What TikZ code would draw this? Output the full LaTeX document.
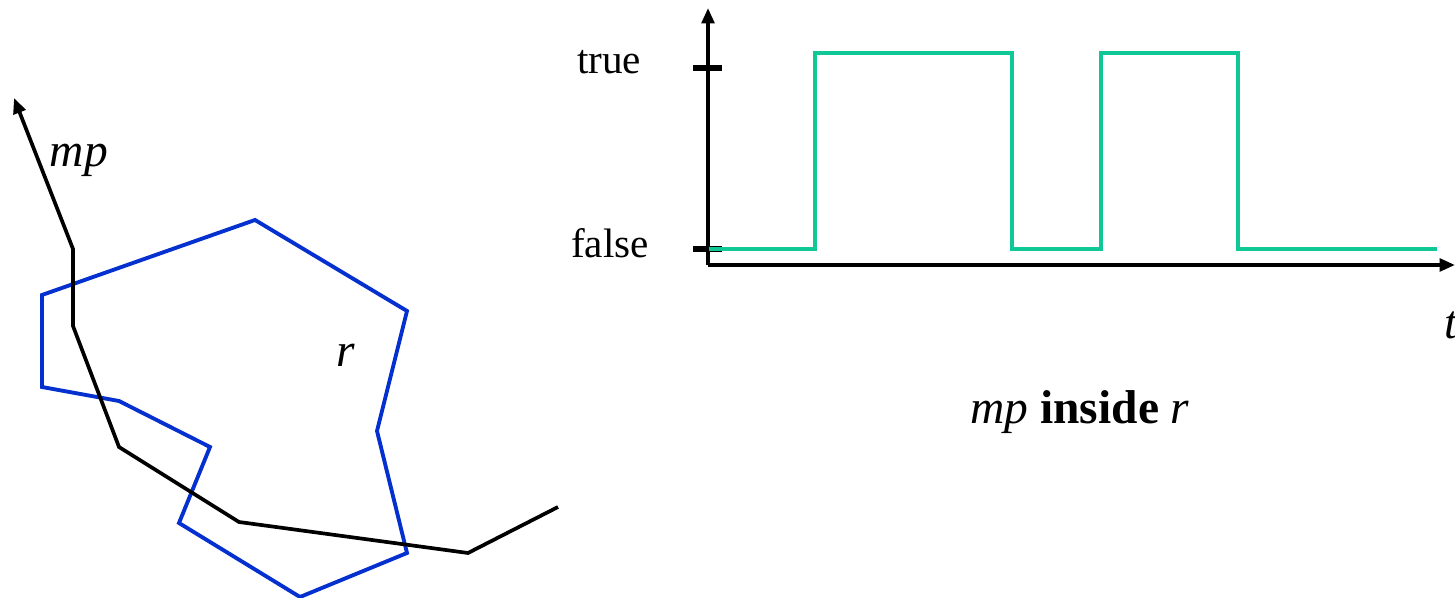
\documentclass[tikz,border=0pt]{standalone}
\usepackage{fontspec}
\setmainfont{Liberation Serif}
\usetikzlibrary{arrows.meta}
\definecolor{regionblue}{HTML}{0530D0}
\definecolor{signal}{HTML}{10C896}

\begin{document}
\begin{tikzpicture}[
  x=0.01cm, y=-0.01cm,
  every node/.style={font=\fontsize{13.5}{16}\selectfont, inner sep=0pt},
  axislabel/.style={font=\fontsize{11.7}{14}\selectfont},
  axis/.style={line width=1.05pt, -{Triangle[length=4.4pt,width=3.6pt]}},
  tickmark/.style={line width=1.5pt},
  region/.style={draw=regionblue, line width=1.1pt},
  trajectory/.style={draw=black, line width=1.05pt, -{Triangle[length=4.4pt,width=3.6pt]}},
  signalline/.style={draw=signal, line width=1.1pt}
]
\useasboundingbox (0,0) rectangle (1455,598);

% moving region
\draw[region] (255,220) -- (407,311) -- (377,431) -- (407,553) -- (300,597) -- (179,523)
  -- (210,447) -- (119,401) -- (42,387) -- (42,295) -- cycle;
\node (rlabel) at (346,355) {\textit{r}};

% moving point
\coordinate (mpstart) at (558,507);
\coordinate (mpend) at (14,98);
\draw[trajectory] (mpstart) -- (468,553) -- (239,522) -- (119,447) -- (73,326) -- (73,249) -- (mpend);
\node (mplabel) at (79,160) {\textit{mp}};

% axes
\coordinate (origin) at (708,265);
\coordinate (ytop) at (708,8);
\coordinate (xend) at (1455,265);
\draw[axis] (origin) -- (ytop);
\draw[axis] (origin) -- (xend);
\draw[tickmark] (693,68) -- (722,68);
\draw[tickmark] (693,249) -- (722,249);
\node[axislabel] (truelabel) at (609,62) {true};
\node[axislabel] (falselabel) at (610,243) {false};
\node[anchor=west] (tlabel) at (1444,325) {\textit{t}};

% boolean signal
\draw[signalline] (709,249) -- (815,249) -- (815,53) -- (1012,53) -- (1012,249) -- (1101,249)
  -- (1101,53) -- (1238,53) -- (1238,249) -- (1437,249);

\node (caption) at (1080,412) {\textit{mp} \textbf{inside} \textit{r}};
\end{tikzpicture}
\end{document}
